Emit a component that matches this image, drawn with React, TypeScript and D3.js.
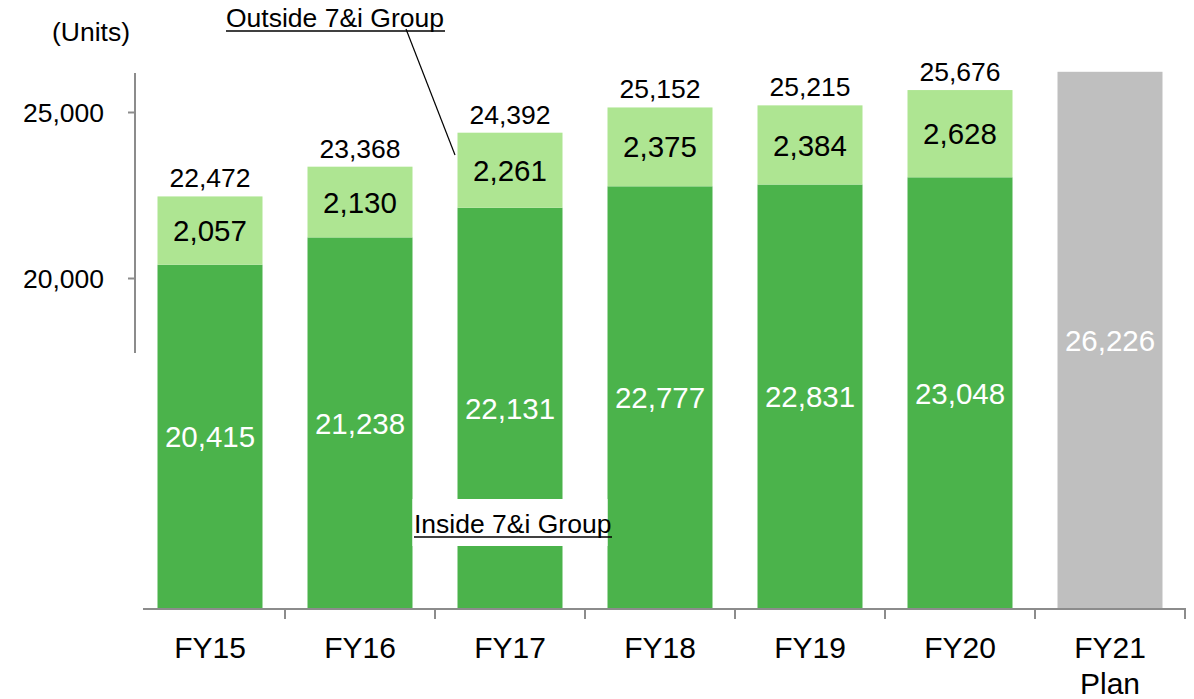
import React from "react";
import * as d3 from "d3";

const categories = ["FY15", "FY16", "FY17", "FY18", "FY19", "FY20", "FY21"];
const totals = [22472, 23368, 24392, 25152, 25215, 25676, 26226];
const outside = [2057, 2130, 2261, 2375, 2384, 2628, null];
const inside = [20415, 21238, 22131, 22777, 22831, 23048, null];
const isPlan = [false, false, false, false, false, false, true];
const yTicks = [20000, 25000];

const W = 1194;
const H = 699;
const FONT = "'Liberation Sans', Arial, Helvetica, sans-serif";
const DARK = "#4BB34B";
const LIGHT = "#AEE592";
const GRAY = "#BFBFBF";
const AXIS = "#8C8C8C";

export default function App() {
  const baseline = 609;
  const x = d3.scaleBand<string>().domain(categories).range([135, 1185]).paddingInner(0.3).paddingOuter(0.15);
  const y = d3.scaleLinear().domain([20000, 25000]).range([278.5, 112.5]);
  const fmt = d3.format(",");
  const bw = x.bandwidth();
  const step = x.step();
  const gapL = x("FY16")! + bw;
  const gapR = x("FY18")!;

  return (
    <svg width={W} height={H} style={{ position: "absolute", left: 0, top: 0, background: "#fff" }} fontFamily={FONT}>
      {/* bars */}
      {categories.map((c, i) => {
        const x0 = x(c)!;
        const cx = x0 + bw / 2;
        const yt = y(totals[i]);
        if (isPlan[i]) {
          return (
            <g key={c}>
              <rect x={x0} y={yt} width={bw} height={baseline - yt} fill={GRAY} />
              <text x={cx} y={(yt + baseline) / 2} dy="0.36em" textAnchor="middle" fontSize={29.5} fill="#fff">
                {fmt(totals[i])}
              </text>
            </g>
          );
        }
        const yi = y(inside[i] as number);
        return (
          <g key={c}>
            <rect x={x0} y={yi} width={bw} height={baseline - yi} fill={DARK} />
            <rect x={x0} y={yt} width={bw} height={yi - yt} fill={LIGHT} />
            <text x={cx} y={(yi + baseline) / 2} dy="0.36em" textAnchor="middle" fontSize={29.5} fill="#fff">
              {fmt(inside[i] as number)}
            </text>
            <text x={cx} y={(yt + yi) / 2} dy="0.36em" textAnchor="middle" fontSize={29.5} fill="#000">
              {fmt(outside[i] as number)}
            </text>
            <text x={cx} y={yt - 9} textAnchor="middle" fontSize={26.5} fill="#000">
              {fmt(totals[i])}
            </text>
          </g>
        );
      })}

      {/* Inside label with white box */}
      <rect x={gapL} y={499} width={gapR - gapL} height={47} fill="#fff" />
      <text x={414} y={533} fontSize={26.5} fill="#000">Inside 7&amp;i Group</text>
      <line x1={414} x2={612} y1={537} y2={537} stroke="#000" strokeWidth={1.6} />

      {/* Outside label */}
      <text x={226} y={27} fontSize={26.5} fill="#000">Outside 7&amp;i Group</text>
      <line x1={226} x2={445} y1={31} y2={31} stroke="#000" strokeWidth={1.6} />
      <line x1={406} y1={29} x2={455} y2={155} stroke="#000" strokeWidth={1.2} />

      {/* y axis */}
      <line x1={135} x2={135} y1={73} y2={353} stroke={AXIS} strokeWidth={2} />
      {yTicks.map((t) => (
        <g key={t}>
          <line x1={128} x2={135} y1={y(t)} y2={y(t)} stroke={AXIS} strokeWidth={2} />
          <text x={104} y={y(t)} dy="0.35em" textAnchor="end" fontSize={26.5} fill="#000">
            {fmt(t)}
          </text>
        </g>
      ))}
      <text x={52} y={41} fontSize={26.5} fill="#000">(Units)</text>

      {/* x axis */}
      <line x1={143} x2={1186} y1={baseline} y2={baseline} stroke={AXIS} strokeWidth={2} />
      {categories.map((c) => {
        const bx = x(c)! - (step - bw) / 2 + step;
        return <line key={"t" + c} x1={bx} x2={bx} y1={baseline} y2={baseline + 10} stroke={AXIS} strokeWidth={2} />;
      })}
      {categories.map((c, i) => {
        const cx = x(c)! + bw / 2;
        return (
          <text key={"l" + c} x={cx} y={658} textAnchor="middle" fontSize={30} fill="#000">
            {c}
            {isPlan[i] && (
              <tspan x={cx} dy={36}>Plan</tspan>
            )}
          </text>
        );
      })}
    </svg>
  );
}
